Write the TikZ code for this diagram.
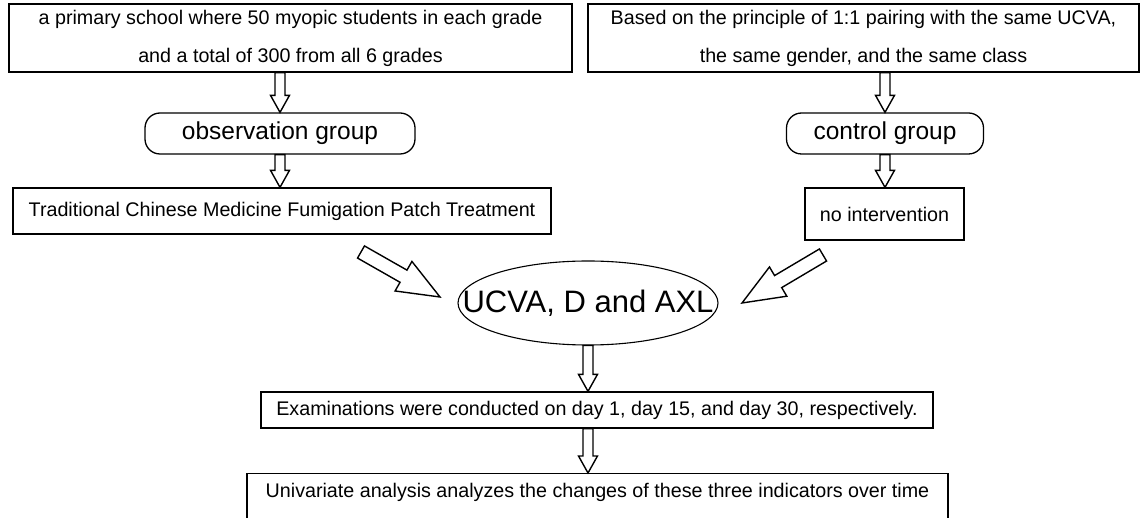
\documentclass[tikz,border=0pt]{standalone}
\usepackage{fontspec}
\setmainfont{Liberation Sans}
\usetikzlibrary{calc,shapes.geometric}
\tikzset{
  box/.style={draw,line width=1.3pt,inner sep=0pt,align=center,font=\fontsize{19.7}{38}\selectfont},
  group/.style={draw,line width=1.3pt,rounded corners=15pt,inner sep=0pt,font=\fontsize{24.5}{28}\selectfont},
  hollow/.style n args={3}{line width=1.4pt,to path={
    ($(\tikztostart)!#1!90:(\tikztotarget)$)
    -- ($($(\tikztotarget)!#3!(\tikztostart)$)!#1!90:(\tikztotarget)$)
    -- ($($(\tikztotarget)!#3!(\tikztostart)$)!#2!90:(\tikztotarget)$)
    -- (\tikztotarget)
    -- ($($(\tikztotarget)!#3!(\tikztostart)$)!#2!-90:(\tikztotarget)$)
    -- ($($(\tikztotarget)!#3!(\tikztostart)$)!#1!-90:(\tikztotarget)$)
    -- ($(\tikztostart)!#1!-90:(\tikztotarget)$) -- cycle}},
  small/.style={hollow={5pt}{9.5pt}{17pt}},
  big/.style={hollow={7pt}{17pt}{42pt}},
}
\begin{document}
\begin{tikzpicture}[x=1pt,y=-1pt]
\useasboundingbox (0,0) rectangle (1141,518);
\clip (0,0) rectangle (1141,518);
%sample
\node[box,minimum width=563pt,minimum height=68pt] (school) at (290.5,38) {a primary school where 50 myopic students in each grade\\and a total of 300 from all 6 grades};
\node[box,minimum width=551pt,minimum height=68pt] (pairing) at (863.5,38) {Based on the principle of 1:1 pairing with the same UCVA,\\the same gender, and the same class};
%groups
\node[group,minimum width=270pt,minimum height=41pt] (obs) at (280,133.5) {observation group};
\node[group,minimum width=197pt,minimum height=41pt] (ctrl) at (885,133.5) {control group};
%treatment
\node[box,minimum width=538pt,minimum height=46pt] (tcm) at (282,211) {Traditional Chinese Medicine Fumigation Patch Treatment};
\node[box,minimum width=159pt,minimum height=52pt] (noint) at (884.5,214) {no intervention};
%indicators
\node[draw,ellipse,line width=1.1pt,minimum width=260pt,minimum height=84pt,inner sep=0pt,font=\fontsize{31}{34}\selectfont] (ucva) at (588,303) {\makebox[0pt]{UCVA, D and AXL}};
\node[box,minimum width=672pt,minimum height=36pt] (exam) at (597,410) {Examinations were conducted on day 1, day 15, and day 30, respectively.};
\node[box,minimum width=701pt,text height=21pt,text depth=40pt,inner ysep=3pt,anchor=north] (uni) at (597.5,473) {Univariate analysis analyzes the changes of these three indicators over time};
%arrows
\draw[small] (school.south -| obs.north) to (obs.north);
\draw[small] (obs.south) to (tcm.north -| obs.south);
\draw[small] (pairing.south -| ctrl.north) to (ctrl.north);
\draw[small] (ctrl.south) to (noint.north -| ctrl.south);
\coordinate (ltail) at (361,252);
\coordinate (ltip) at (440,297);
\coordinate (rtail) at (823,255);
\coordinate (rtip) at (742,303);
\draw[big] (ltail) to (ltip);
\draw[big] (rtail) to (rtip);
\draw[small] (ucva.south) to (exam.north -| ucva.south);
\draw[small] (exam.south -| ucva.south) to (uni.north -| ucva.south);
\end{tikzpicture}
\end{document}
